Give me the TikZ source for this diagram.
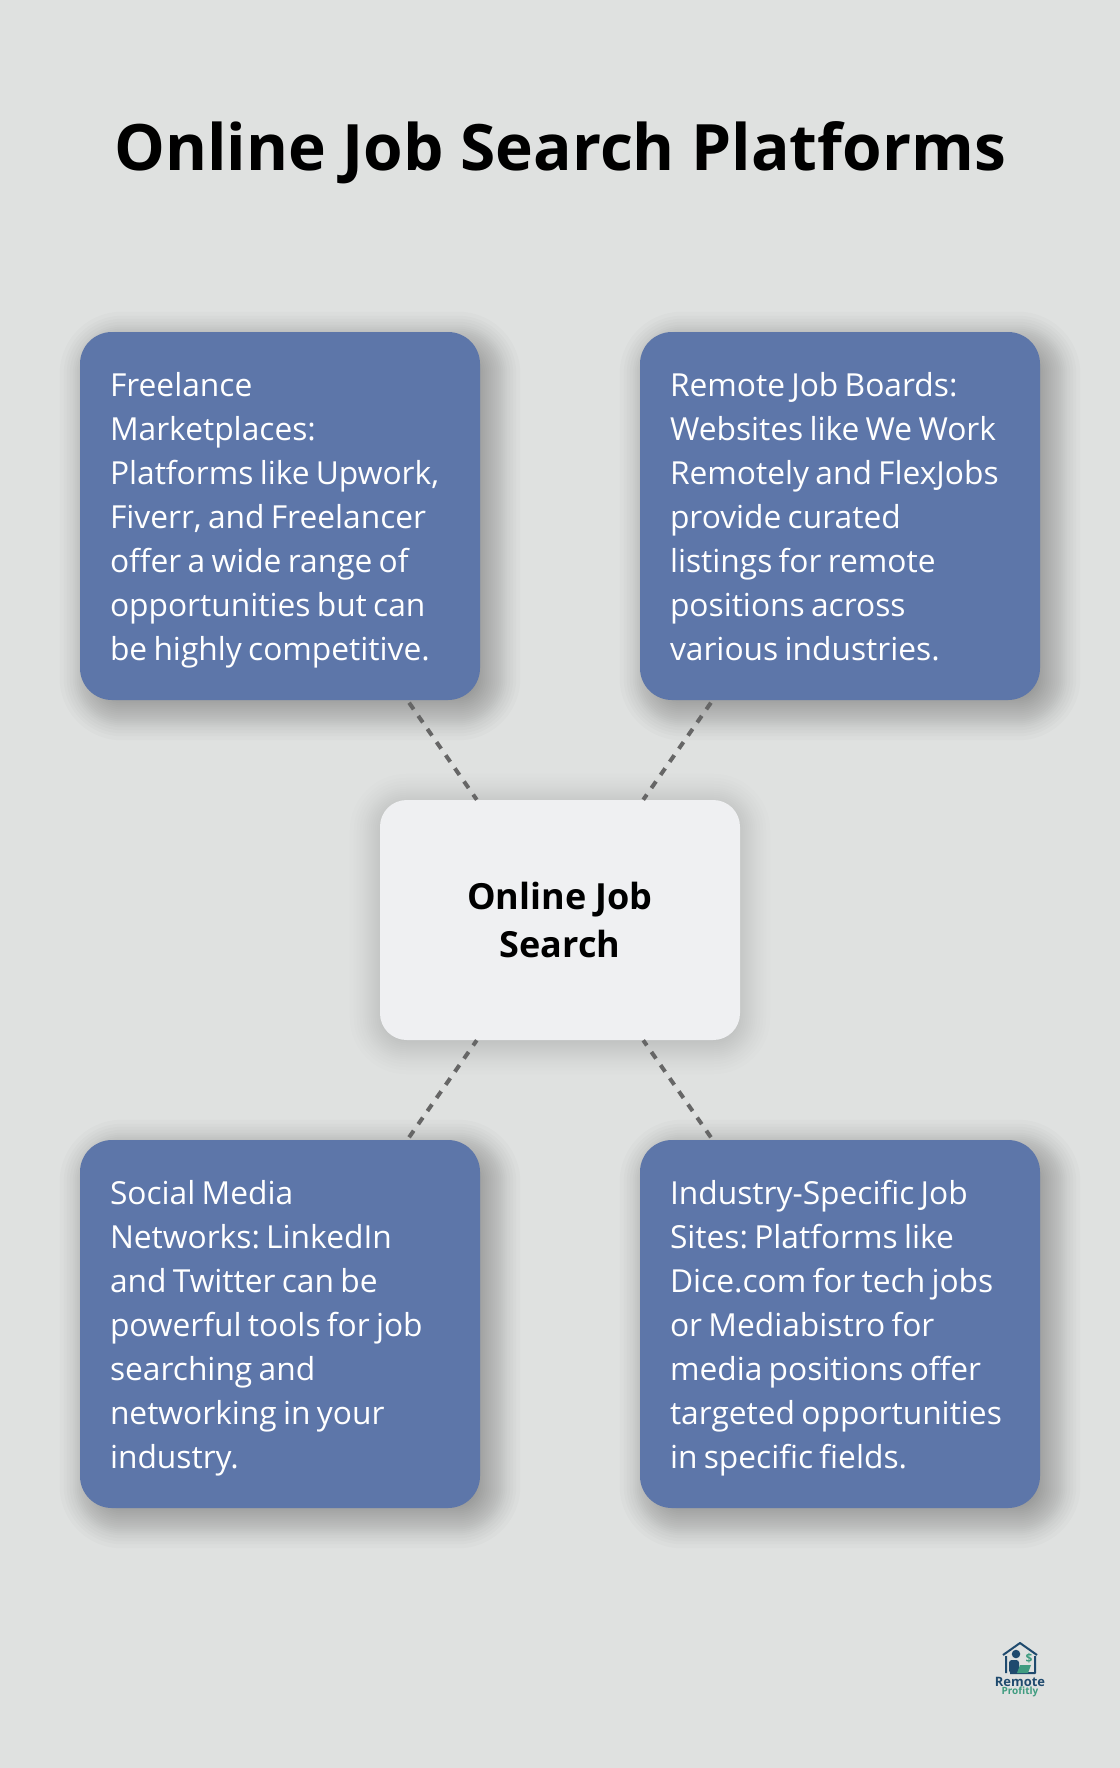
\documentclass[tikz,border=0pt]{standalone}
\usepackage{fontspec}
\setmainfont{Open Sans}
\usetikzlibrary{positioning,backgrounds}
\frenchspacing

\definecolor{pagegrey}{HTML}{DFE1E0}
\definecolor{cardblue}{HTML}{5D76A9}
\definecolor{hubgrey}{HTML}{EFF0F2}
\definecolor{linkgrey}{HTML}{666666}
\definecolor{logoblue}{HTML}{1F4A6E}
\definecolor{logogreen}{HTML}{3F9C80}

\newcommand{\cardstart}{\spaceskip 4.7pt\relax\rule{0pt}{24pt}}

\tikzset{
  card/.style={rectangle,rounded corners=24pt,fill=cardblue,text=white,minimum width=300pt,minimum height=276pt,
    text width=255pt,inner sep=0pt,align=left,font=\fontsize{23.8}{33}\selectfont,
    execute at begin node=\cardstart,execute at end node=\rule[-5.8pt]{0pt}{0pt}},
  hub/.style={rectangle,rounded corners=20pt,fill=hubgrey,minimum width=270pt,minimum height=180pt,
    inner sep=0pt,align=center,font=\fontsize{27}{36}\selectfont\bfseries,
    execute at begin node=\rule{0pt}{24pt}},
  link/.style={draw=linkgrey,line width=3pt,dash pattern=on 6pt off 6pt,dash phase=9.75pt}
}

% node, x offset, y offset, corner radius in pt, opacity of one layer
\newcommand{\softshadow}[5]{
  \foreach \g in {-30,-26,-23,-20,-17,-15,-13,-11,-9,-7,-5,-3,-1,1,3,5,7,9,11,13,15,17,20,23,26,30} {
    \pgfmathsetmacro{\r}{max(#4+0.75*\g,1)}
    \fill[black,opacity=#5,rounded corners=\r pt] ([shift={(#2-\g,#3-\g)}]#1.north west) rectangle ([shift={(#2+\g,#3+\g)}]#1.south east);
  }
}

\begin{document}
\begin{tikzpicture}[x=0.75pt,y=-0.75pt]
\useasboundingbox (0,0) rectangle (1120,1768);

\node[font=\fontsize{48}{58}\selectfont\bfseries] (title) at (560,153) {Online Job Search Platforms};

\node[card] (freelance) at (280,516) {Freelance\\Marketplaces:\\Platforms like Upwork,\\Fiverr, and Freelancer\\offer a wide range of\\opportunities but can\\be highly competitive.};
\node[card] (boards) at (840,516) {Remote Job Boards:\\Websites like We Work\\Remotely and FlexJobs\\provide curated\\listings for remote\\positions across\\various industries.};
\node[card] (social) at (280,1324) {Social Media\\Networks: LinkedIn\\and Twitter can be\\powerful tools for job\\searching and\\networking in your\\industry.};
\node[card] (industry) at (840,1324) {Industry-Specific Job\\Sites: Platforms like\\Dice.com for tech jobs\\or Mediabistro for\\media positions offer\\targeted opportunities\\in specific fields.};
\node[hub] (search) at (560,920) {Online Job\\Search};

\begin{pgfonlayer}{background}
\fill[pagegrey] (0,0) rectangle (1120,1768);
\softshadow{freelance}{10}{10}{24}{0.0145}
\softshadow{boards}{10}{10}{24}{0.0145}
\softshadow{social}{10}{10}{24}{0.0145}
\softshadow{industry}{10}{10}{24}{0.0145}
\softshadow{search}{0}{4}{20}{0.0097}
\end{pgfonlayer}

\draw[link] (freelance) -- (search);
\draw[link] (boards) -- (search);
\draw[link] (social) -- (search);
\draw[link] (industry) -- (search);

% logo
\draw[logoblue,line width=1.5pt,line join=round] (1006,1673) -- (1006,1656) (1003,1655) -- (1020,1643) -- (1037,1655) (1035,1656) -- (1035,1673) -- (1010,1673);
\fill[logoblue] (1016,1654) circle (3.2pt);
\fill[logoblue,rounded corners=2pt] (1009,1673) rectangle (1019,1660);
\fill[logogreen] (1017,1673) -- (1028,1673) -- (1031,1665) -- (1020,1665) -- cycle;
\node[text=logogreen,font=\fontsize{9}{9}\selectfont\bfseries,inner sep=0pt] (dollar) at (1029,1658) {\$};
\node[text=logoblue,font=\fontsize{9.7}{10}\selectfont\bfseries,inner sep=0pt] (remote) at (1020,1682) {Remote};
\node[text=logogreen,font=\fontsize{7.5}{8}\selectfont\bfseries,inner sep=0pt] (profitly) at (1020,1692) {Profitly};
\end{tikzpicture}
\end{document}
